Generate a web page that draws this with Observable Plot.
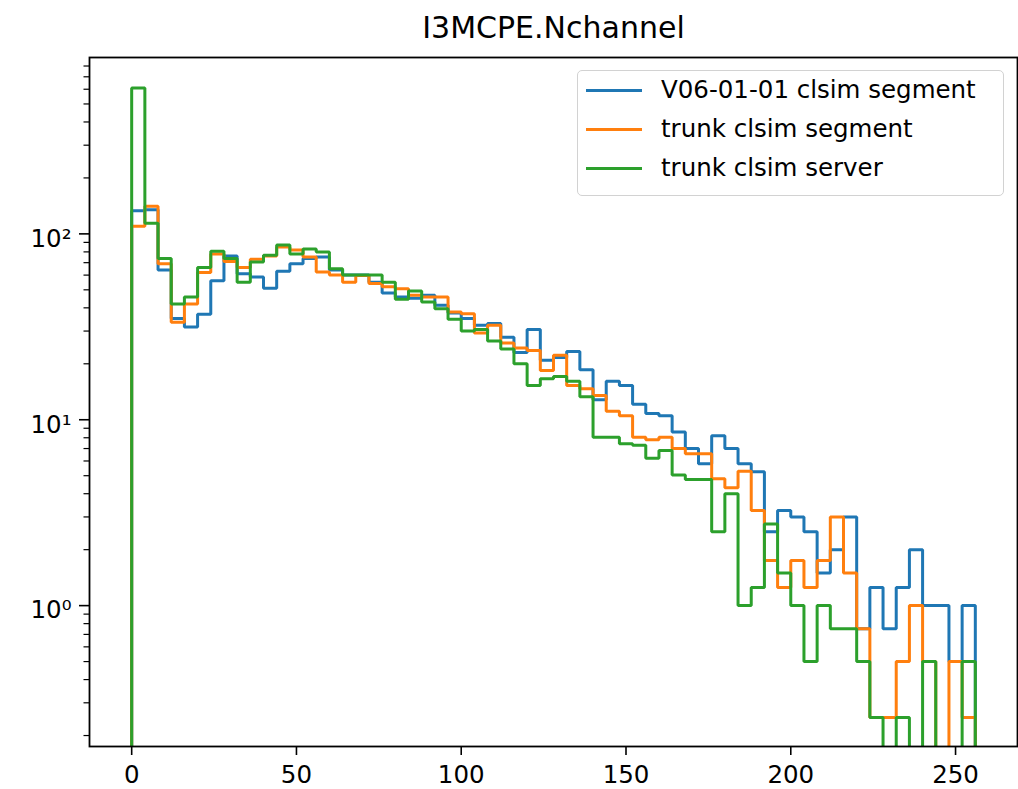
<!DOCTYPE html>
<html>
<head>
<meta charset="utf-8">
<script src="https://cdn.jsdelivr.net/npm/d3@7"></script>
<script src="https://cdn.jsdelivr.net/npm/@observablehq/plot@0.6"></script>
<style>
  html, body { margin: 0; padding: 0; background: #fff; }
  #wrap { position: relative; width: 1018px; height: 789px; font-family: "DejaVu Sans", sans-serif; }
  #legend { position: absolute; left: 577px; top: 70px; width: 427px; height: 126px; box-sizing: border-box;
            border: 1.5px solid #d2d2d2; border-radius: 5px; background: #fff; }
  .row { position: absolute; left: 0; height: 30px; display: flex; align-items: center; }
  .handle { margin-left: 8px; width: 56px; height: 3px; }
  .lab { margin-left: 19px; font-size: 24.5px; line-height: 30px; color: #000; white-space: nowrap; }
</style>
</head>
<body>
<div id="wrap"><div id="chart"></div><div id="legend"></div></div>
<script>
// ---- data ----
const binEdges = d3.range(0, 257, 4); // 64 bins of width 4, 0..256

const v06Segment = [133, 135, 64, 35, 31.5, 37, 56, 76, 61, 58.6,
  51, 63, 69, 73.6, 75, 64, 60, 60, 55, 48,
  45.7, 45, 46.7, 41.3, 37.5, 35, 32.2, 32.9, 27.8, 23,
  30.6, 20.9, 21.6, 23.3, 18.6, 12.8, 16.1, 15.3, 12.1, 10.8,
  10.5, 8.6, 7.0, 5.8, 8.2, 7.0, 5.8, 5.25, 2.5, 3.25,
  3.0, 2.5, 1.5, 2.0, 3.0, 0.75, 1.25, 0.75, 1.25, 2.0,
  1.0, 1.0, 0.5, 1.0];

const trunkSegment = [110, 141, 69, 33.5, 42, 62, 78, 71, 66, 73,
  76, 85, 82, 75, 62.4, 60, 55, 59.8, 54, 52,
  50.7, 46.7, 45.7, 45.7, 38, 37.2, 29.3, 32.2, 25.9, 24.3,
  23.6, 18.4, 22.2, 15.3, 14.7, 13.5, 11.1, 10.5, 8.06, 7.8,
  8.06, 7.0, 6.56, 6.56, 4.81, 4.3, 5.29, 3.25, 1.75, 1.25,
  1.75, 1.25, 1.75, 3.0, 1.5, 0.75, 0.25, 0.25, 0.5, 1.0,
  0.5, 0, 0.5, 0.25];

const trunkServer = [610, 114, 73.6, 42, 45.7, 66, 80.6, 73.6, 55, 70.6,
  76.7, 87, 78, 83, 80, 65, 60, 60, 60, 55,
  44.5, 49.3, 43, 39.6, 34.7, 30, 30.6, 26.5, 24, 20,
  15.3, 16.6, 17.1, 16.1, 13.3, 8.06, 8.06, 7.42, 7.3, 6.21,
  6.84, 5.05, 4.77, 4.77, 2.5, 4.0, 1.0, 1.25, 2.75, 1.5,
  1.0, 0.5, 1.0, 0.75, 0.75, 0.5, 0.25, 0, 0.25, 0,
  0.5, 0, 0, 0.5];

const seriesNames = ["V06-01-01 clsim segment", "trunk clsim segment", "trunk clsim server"];
const seriesColors = ["#1f77b4", "#ff7f0e", "#2ca02c"];
const seriesValues = [v06Segment, trunkSegment, trunkServer];

const xTicks = [0, 50, 100, 150, 200, 250];
const yMajorTicks = [1, 10, 100];
const yMajorLabels = ["10⁰", "10¹", "10²"];
const yMinorTicks = [0.2, 0.3, 0.4, 0.5, 0.6, 0.7, 0.8, 0.9,
  2, 3, 4, 5, 6, 7, 8, 9, 20, 30, 40, 50, 60, 70, 80, 90,
  200, 300, 400, 500, 600, 700, 800];
const title = "I3MCPE.Nchannel";

// ---- step outline (matplotlib histtype="step") ----
const FLOOR = 1e-3; // empty bins drop below the axis
function outline(values) {
  const pts = [{x: binEdges[0], y: FLOOR}];
  values.forEach((v, i) => {
    const y = v > 0 ? v : FLOOR;
    pts.push({x: binEdges[i], y}, {x: binEdges[i + 1], y});
  });
  pts.push({x: binEdges[binEdges.length - 1], y: FLOOR});
  return pts;
}

const chart = Plot.plot({
  width: 1018, height: 789,
  marginLeft: 89, marginRight: 1, marginTop: 57, marginBottom: 43,
  style: {fontFamily: "DejaVu Sans, sans-serif", fontSize: "24.5px", color: "#000", background: "#fff"},
  x: {domain: [-12.8, 268.8]},
  y: {type: "log", domain: [0.1746, 889]},
  marks: [
    ...seriesValues.map((vals, i) => Plot.line(outline(vals), {
      x: "x", y: "y", stroke: seriesColors[i], strokeWidth: 3,
      strokeLinejoin: "miter", clip: true
    })),
    Plot.frame({stroke: "#000", strokeWidth: 1.8}),
    Plot.axisX(xTicks, {tickSize: 9, tickPadding: 10, tickFormat: d => String(d), label: null, fontSize: 24.5, strokeWidth: 1.6}),
    Plot.axisY(yMajorTicks, {tickSize: 10, tickFormat: () => "", label: null, strokeWidth: 1.6}),
    Plot.axisY(yMinorTicks, {tickSize: 5.5, tickFormat: () => "", label: null, strokeWidth: 1.2}),
    Plot.axisY(yMajorTicks, {tickSize: 0, tickPadding: 18, dy: 5, label: null, fontSize: 24.5,
      tickFormat: d => yMajorLabels[yMajorTicks.indexOf(d)]}),
    Plot.text([title], {frameAnchor: "top", lineAnchor: "middle", dy: -29, fontSize: 30, fill: "#000"})
  ]
});
document.getElementById("chart").appendChild(chart);

// ---- legend ----
const legend = document.getElementById("legend");
const rowTops = [4, 43, 82];
seriesNames.forEach((name, i) => {
  const row = document.createElement("div");
  row.className = "row";
  row.style.top = rowTops[i] + "px";
  const h = document.createElement("div");
  h.className = "handle";
  h.style.background = seriesColors[i];
  const t = document.createElement("span");
  t.className = "lab";
  t.textContent = name;
  row.appendChild(h); row.appendChild(t);
  legend.appendChild(row);
});
</script>
</body>
</html>
